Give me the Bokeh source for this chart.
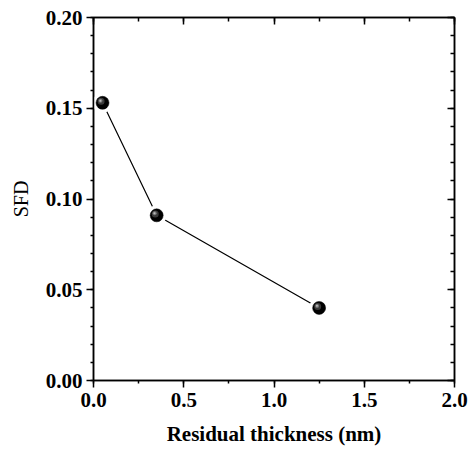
from bokeh.plotting import figure
from bokeh.models import (ColumnDataSource, Range1d, LinearAxis, SingleIntervalTicker,
                          PrintfTickFormatter, CustomJSTickFormatter)
from bokeh.transform import dodge
from bokeh.embed import file_html
from bokeh.resources import INLINE

thickness = [0.05, 0.35, 1.25]
sfd = [0.153, 0.091, 0.040]

x_label = "Residual thickness (nm)"
y_label = "SFD"

FONT = "Liberation Serif"

src = ColumnDataSource(dict(x=thickness, y=sfd))

p = figure(width=471, height=452, output_backend="svg", toolbar_location=None,
           x_range=Range1d(0, 2.0), y_range=Range1d(0, 0.20),
           min_border_left=93, min_border_right=17, min_border_top=17, min_border_bottom=72,
           x_axis_label=x_label, y_axis_label=y_label)
p.grid.visible = False
p.outline_line_color = "black"
p.outline_line_width = 1.5
p.background_fill_color = "white"
p.border_fill_color = "white"

xt = SingleIntervalTicker(interval=0.5, num_minor_ticks=2)
yt = SingleIntervalTicker(interval=0.05, num_minor_ticks=5)

p.xaxis.ticker = xt
p.yaxis.ticker = yt
p.xaxis.formatter = PrintfTickFormatter(format="%.1f")
p.yaxis.formatter = PrintfTickFormatter(format="%.2f")

for ax in (p.xaxis[0], p.yaxis[0]):
    ax.axis_line_width = 1.5
    ax.major_tick_line_width = 1.5
    ax.minor_tick_line_width = 1.5
    ax.major_tick_out = 7
    ax.major_tick_in = 0
    ax.minor_tick_out = 3
    ax.minor_tick_in = 0
    ax.major_label_text_font = FONT
    ax.major_label_text_font_style = "bold"
    ax.major_label_text_font_size = "21px"
    ax.major_label_text_color = "black"
    ax.axis_label_text_font = FONT
    ax.axis_label_text_color = "black"
    ax.major_label_standoff = 4

p.yaxis.major_label_standoff = 4
p.xaxis.major_label_standoff = 5
p.xaxis.axis_label_standoff = 12
p.xaxis.axis_label_text_font_style = "bold"
p.xaxis.axis_label_text_font_size = "21px"
p.yaxis.axis_label_standoff = 11
p.yaxis.axis_label_text_font_style = "normal"
p.yaxis.axis_label_text_font_size = "20px"

blank = CustomJSTickFormatter(code="return ''")
top = LinearAxis(ticker=SingleIntervalTicker(interval=0.5, num_minor_ticks=2), formatter=blank)
right = LinearAxis(ticker=SingleIntervalTicker(interval=0.05, num_minor_ticks=5), formatter=blank)
for ax in (top, right):
    ax.axis_line_width = 1.5
    ax.major_tick_line_width = 1.5
    ax.minor_tick_line_width = 1.5
    ax.major_tick_in = 7
    ax.major_tick_out = 0
    ax.minor_tick_in = 4
    ax.minor_tick_out = 0
    ax.major_label_text_font_size = "0px"
    ax.major_label_standoff = 0
p.add_layout(top, "above")
p.add_layout(right, "right")

p.line("x", "y", source=src, line_color="black", line_width=1.2)
p.scatter("x", "y", source=src, size=20, fill_color="white", line_color=None)
p.scatter("x", "y", source=src, size=13, fill_color="black", line_color="black", line_width=0.5)
p.scatter(dodge("x", -0.008, range=p.x_range), dodge("y", 0.0008, range=p.y_range),
          source=src, size=7, fill_color="#3a3a3a", line_color=None)
p.scatter(dodge("x", -0.011, range=p.x_range), dodge("y", 0.0011, range=p.y_range),
          source=src, size=4, fill_color="#777777", line_color=None)
p.scatter(dodge("x", -0.012, range=p.x_range), dodge("y", 0.0012, range=p.y_range),
          source=src, size=2, fill_color="#bbbbbb", line_color=None)

open("out.html", "w").write(file_html(p, INLINE))
